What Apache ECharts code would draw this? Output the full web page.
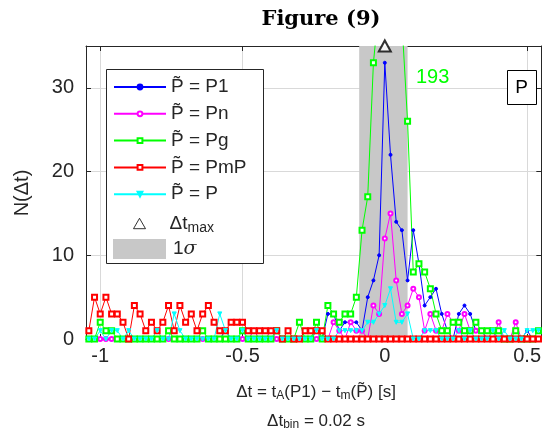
<!DOCTYPE html>
<html>
<head>
<meta charset="utf-8">
<script src="https://cdn.jsdelivr.net/npm/echarts@6/dist/echarts.min.js"></script>
<style>
html, body { margin: 0; padding: 0; background: #fff; }
#main { width: 544px; height: 445px; }
</style>
</head>
<body>
<div id="main"></div>
<script>
// histogram bins of dt [s]: centre of first bin and bin width
var binStart = -1.04;
var binWidth = 0.02;

// counts per bin
var nP1 = [
  0,0,0,0,0,0,0,0,0,0,
  0,0,0,0,0,0,0,0,0,0,
  0,0,0,0,1,0,0,0,0,0,
  0,0,0,0,0,0,0,0,0,0,
  1,0,3,3,1,2,2,2,1,5,
  7,10,33,22,14,13,7,13,9,4,
  5,6,3,1,0,3,4,3,1,1,
  0,0,0,0,0,0,0,1,0,0
];
var nPn = [
  0,0,0,0,0,0,0,0,0,0,
  0,0,0,0,0,0,0,0,0,0,
  0,0,0,0,0,0,0,0,0,1,
  0,0,1,0,0,0,0,0,0,0,
  0,1,0,2,1,0,2,1,1,0,
  4,3,12,15,7,3,4,6,5,1,
  3,1,1,3,2,1,3,1,1,1,
  0,0,2,0,0,2,0,0,0,0
];
var nPg = [
  0,0,2,1,1,0,0,0,0,0,
  0,0,0,0,1,0,0,0,0,0,
  1,0,0,0,0,0,0,1,0,0,
  0,0,0,1,0,0,0,2,0,0,
  2,0,4,3,2,3,3,5,13,17,
  33,40,193,120,60,38,26,8,9,8,
  6,3,1,1,2,2,1,1,2,1,
  1,1,1,0,0,1,0,0,0,1
];
var nPmP = [
  1,5,3,5,3,3,2,0,4,3,
  1,2,1,2,4,1,4,2,3,1,
  3,4,2,1,1,2,2,2,1,1,
  1,1,1,1,0,1,0,0,1,1,
  1,1,0,0,0,0,0,0,0,0,
  0,0,0,0,0,0,0,0,0,0,
  0,0,0,0,0,0,0,0,0,0,
  0,0,0,0,0,0,0,0,0,0
];
var nP = [
  0,0,1,0,1,1,0,1,0,0,
  0,0,1,0,0,3,1,0,0,0,
  0,0,0,3,1,0,0,1,0,0,
  0,0,0,1,0,0,0,0,0,0,
  1,0,0,0,1,1,1,1,1,2,
  2,3,4,6,2,2,3,0,0,1,
  1,1,0,0,0,1,0,1,0,0,
  0,1,0,1,0,0,0,1,1,1
];

var dtMax = [[0, 35]];
var sigmaBand = [-0.09, 0.08];
var xTicks = [-1, -0.5, 0, 0.5];
var yTicks = [0, 10, 20, 30];
var pgPeakLabel = '193';

var FONT = 'Liberation Sans';

function binned(vals) {
  return vals.map(function (v, i) {
    return [Math.round((binStart + i * binWidth) * 100) / 100, v];
  });
}

function histLine(name, vals, color, symbol, size, rotate) {
  return {
    name: name,
    type: 'line',
    data: binned(vals),
    color: color,
    symbol: symbol,
    symbolSize: size,
    symbolRotate: rotate || 0,
    showAllSymbol: true,
    lineStyle: { width: 1, color: color },
    itemStyle: { color: color, borderColor: color, borderWidth: 1 },
    emphasis: { disabled: true },
    z: 3
  };
}

var chart = echarts.init(document.getElementById('main'));

var option = {
  animation: false,
  backgroundColor: '#fff',
  textStyle: { fontFamily: FONT },
  title: {
    text: 'Figure (9)',
    left: 316,
    top: 4,
    textAlign: 'center',
    textStyle: { fontFamily: 'DejaVu Serif', fontWeight: 'bold', fontSize: 21, color: '#000' }
  },
  grid: { left: 86, right: 2, top: 46, bottom: 106, containLabel: false },
  xAxis: [{
    type: 'value', min: -1.05, max: 0.55, position: 'bottom',
    axisLine: { onZero: false, lineStyle: { color: '#262626', width: 1 } },
    axisTick: { inside: true, length: 5, customValues: xTicks, lineStyle: { color: '#262626' } },
    axisLabel: { customValues: xTicks, fontSize: 20, color: '#262626', margin: 7,
      formatter: function (v) { return String(v); } },
    splitLine: { show: true, lineStyle: { color: '#d9d9d9', width: 1 } }
  }, {
    type: 'value', min: -1.05, max: 0.55, position: 'top',
    axisLine: { onZero: false, lineStyle: { color: '#262626', width: 1 } },
    axisTick: { inside: true, length: 5, customValues: xTicks, lineStyle: { color: '#262626' } },
    axisLabel: { show: false },
    splitLine: { show: false }
  }],
  yAxis: [{
    type: 'value', min: 0, max: 35, position: 'left',
    axisLine: { show: true, onZero: false, lineStyle: { color: '#262626', width: 1 } },
    axisTick: { show: true, inside: true, length: 5, customValues: yTicks, lineStyle: { color: '#262626' } },
    axisLabel: { customValues: yTicks, fontSize: 20, color: '#262626', margin: 12 },
    splitLine: { show: true, lineStyle: { color: '#d9d9d9', width: 1 } }
  }, {
    type: 'value', min: 0, max: 35, position: 'right',
    axisLine: { show: true, onZero: false, lineStyle: { color: '#262626', width: 1 } },
    axisTick: { show: true, inside: true, length: 5, customValues: yTicks, lineStyle: { color: '#262626' } },
    axisLabel: { show: false },
    splitLine: { show: false }
  }],
  legend: [{
    data: ['P\u0303 = P1', 'P\u0303 = Pn', 'P\u0303 = Pg', 'P\u0303 = PmP', 'P\u0303 = P'],
    orient: 'vertical', left: 113, top: 77, padding: 0,
    itemWidth: 52, itemHeight: 6, itemGap: 6.8,
    textStyle: { fontFamily: FONT, fontSize: 19, lineHeight: 20, color: '#262626' },
    selectedMode: false, z: 20
  }, {
    data: [{ name: 'dtmax', icon: 'path://M6,0L12,10.4L0,10.4Z',
      itemStyle: { color: '#fff', borderColor: '#000', borderWidth: 1 } }],
    orient: 'vertical', left: 133, top: 214, padding: 0,
    itemWidth: 12, itemHeight: 11,
    formatter: function () { return '{a|\u0394t}{s|max}'; },
    textStyle: { fontFamily: FONT, fontSize: 19, color: '#262626',
      rich: { a: { fontSize: 19, fontFamily: FONT, color: '#262626', padding: [0, 0, 0, 19] },
              s: { fontSize: 14, fontFamily: FONT, color: '#262626', padding: [9, 0, 0, 0] } } },
    selectedMode: false, z: 20
  }, {
    data: [{ name: 'sigma', icon: 'rect' }],
    orient: 'vertical', left: 113, top: 239, padding: 0,
    itemWidth: 53, itemHeight: 20,
    formatter: function () { return '{a|1}{b|\u03c3}'; },
    textStyle: { fontFamily: FONT, fontSize: 19, color: '#262626',
      rich: { a: { fontSize: 19, fontFamily: FONT, color: '#262626', padding: [0, 0, 0, 2] },
              b: { fontSize: 19, fontFamily: 'DejaVu Serif', fontStyle: 'italic', color: '#262626' } } },
    selectedMode: false, z: 20
  }],
  graphic: [
    { type: 'rect', left: 106, top: 69, z: 10, silent: true,
      shape: { width: 157, height: 194 },
      style: { fill: '#fff', stroke: '#262626', lineWidth: 1 } },
    { type: 'text', x: 416, y: 77, z: 10, silent: true,
      style: { text: pgPeakLabel, fill: '#00ff00', font: '20px ' + FONT, textVerticalAlign: 'middle' } },
    { type: 'rect', left: 507, top: 70, z: 10, silent: true,
      shape: { width: 29, height: 34 },
      style: { fill: '#fff', stroke: '#000', lineWidth: 1 } },
    { type: 'text', x: 521.5, y: 87.5, z: 11, silent: true,
      style: { text: 'P', fill: '#000', font: '19px ' + FONT, textAlign: 'center', textVerticalAlign: 'middle' } },
    { type: 'text', x: 22, y: 193, rotation: Math.PI / 2, z: 10, silent: true,
      style: { text: 'N(\u0394t)', fill: '#262626', font: '20px ' + FONT, textAlign: 'center', textVerticalAlign: 'middle' } },
    { type: 'text', x: 316, y: 392, z: 10, silent: true,
      style: { text: '{n|\u0394t = t}{s|A}{n|(P1) \u2212 t}{s|m}{n|(P\u0303) [s]}',
        textAlign: 'center', textVerticalAlign: 'middle',
        rich: { n: { fontSize: 17, fontFamily: FONT, fill: '#262626' },
                s: { fontSize: 12, fontFamily: FONT, fill: '#262626', padding: [8, 0, 0, 0] } } } },
    { type: 'text', x: 316, y: 421, z: 10, silent: true,
      style: { text: '{n|\u0394t}{s|bin}{n| = 0.02 s}',
        textAlign: 'center', textVerticalAlign: 'middle',
        rich: { n: { fontSize: 17, fontFamily: FONT, fill: '#262626' },
                s: { fontSize: 12, fontFamily: FONT, fill: '#262626', padding: [8, 0, 0, 0] } } } }
  ],
  series: [
    {
      name: 'sigma', type: 'line', data: [], color: '#c8c8c8', z: -1,
      markArea: { silent: true, itemStyle: { color: '#c8c8c8' },
        data: [[{ xAxis: sigmaBand[0] }, { xAxis: sigmaBand[1] }]] }
    },
    histLine('P\u0303 = P1', nP1, '#0000ff', 'circle', 3),
    histLine('P\u0303 = Pn', nPn, '#ff00ff', 'emptyCircle', 4),
    histLine('P\u0303 = Pg', nPg, '#00ff00', 'emptyRect', 5),
    histLine('P\u0303 = PmP', nPmP, '#ff0000', 'emptyRect', 5),
    histLine('P\u0303 = P', nP, '#00ffff', 'triangle', 4, 180),
    {
      name: 'dtmax', type: 'scatter', data: dtMax, clip: false,
      symbol: 'emptyTriangle', symbolSize: [12, 11], color: '#000',
      itemStyle: { color: '#000', borderColor: '#000', borderWidth: 1 }, z: 5
    }
  ]
};

chart.setOption(option);
</script>
</body>
</html>
